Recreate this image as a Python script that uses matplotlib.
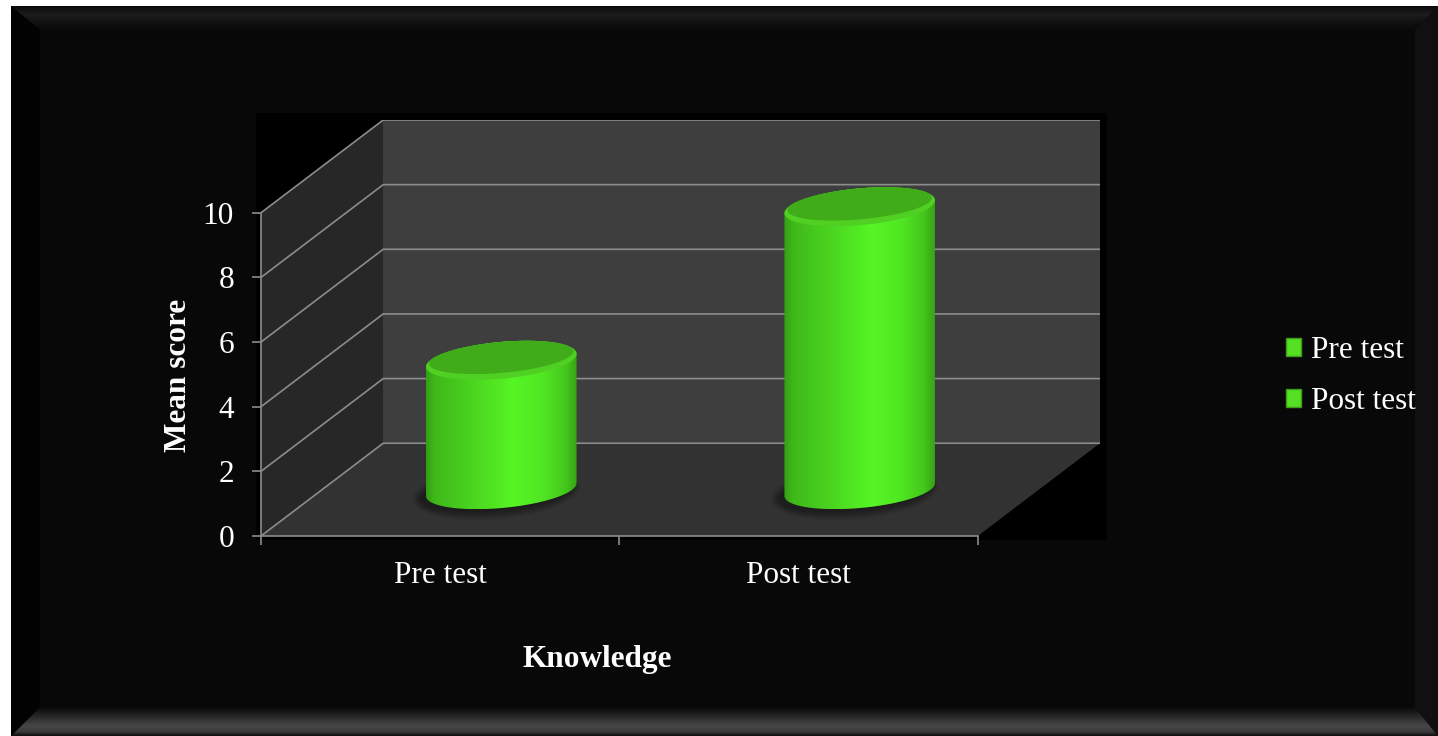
# 3D-style cylinder bar chart: mean knowledge score, pre vs post test

import matplotlib
matplotlib.use('Agg')
import matplotlib.pyplot as plt
import numpy as np
from matplotlib.patches import Polygon, Patch
from matplotlib.colors import LinearSegmentedColormap

# data
categories = ['Pre test', 'Post test']
mean_scores = [4.0, 8.75]
y_ticks = [0, 2, 4, 6, 8, 10]

W, H = 1438, 736
plt.rcParams['font.family'] = ['Liberation Serif', 'DejaVu Serif']
fig = plt.figure(figsize=(W / 100, H / 100), dpi=100)
fig.patch.set_facecolor('white')


def fx(x):
    return x / W


def fy(y):
    return 1 - y / H


def grad_fill(ax, pts, stops, vertical=True, zorder=1):
    # polygon filled with a linear gradient (imshow clipped to polygon)
    poly = Polygon(pts, closed=True, fc='none', ec='none', zorder=zorder)
    ax.add_patch(poly)
    xs = [p[0] for p in pts]
    ys = [p[1] for p in pts]
    cmap = LinearSegmentedColormap.from_list('g', stops)
    g = np.linspace(0, 1, 256)
    img = g[:, None] if vertical else g[None, :]
    im = ax.imshow(img, cmap=cmap, vmin=0, vmax=1, aspect='auto',
                   interpolation='bilinear', zorder=zorder,
                   extent=[min(xs), max(xs), max(ys), min(ys)] if vertical
                   else [min(xs), max(xs), min(ys), max(ys)])
    im.set_clip_path(poly)
    return im


# background frame with bevel, in pixel coordinates
bg = fig.add_axes([0, 0, 1, 1])
bg.set_xlim(0, W)
bg.set_ylim(H, 0)
bg.axis('off')
bg.add_patch(Polygon([(11, 6), (W, 6), (W, H), (11, H)], fc='#080808', ec='none'))
grad_fill(bg, [(11, 6), (W, 6), (1415, 30), (40, 30)],
          [(0, '#0a0a0a'), (0.35, '#1c1c1c'), (0.6, '#141414'), (1, '#080808')])
grad_fill(bg, [(40, 707), (1415, 707), (W, 736), (11, 736)],
          [(0, '#080808'), (0.35, '#2a2a2a'), (0.65, '#474747'), (0.85, '#3a3a3a'), (1, '#0c0c0c')])
bg.add_patch(Polygon([(11, 6), (40, 30), (40, 707), (11, 736)], fc='#020202', ec='none'))
bg.add_patch(Polygon([(W, 6), (1415, 30), (1415, 707), (W, 736)], fc='#101010', ec='none'))
bg.add_patch(Polygon([(256, 113), (1107, 113), (1107, 540), (256, 540)], fc='#000000', ec='none'))
bg.set_xlim(0, W)
bg.set_ylim(H, 0)

# main axes: front plane of the 3D box
L, R, B, T = 261, 1100, 536, 120
ax = fig.add_axes([fx(L), fy(B), (R - L) / W, (B - T) / H])
ax.set_facecolor('none')
n = len(categories)
dx = 0.341   # depth shift, category units
dy = 2.87    # depth shift, value units
ymax = y_ticks[-1]

# walls and floor
ax.add_patch(Polygon([(0, 0), (dx, dy), (dx, ymax + dy), (0, ymax)], fc='#272727', ec='none', zorder=0.5))
ax.add_patch(Polygon([(dx, dy), (n + dx, dy), (n + dx, ymax + dy), (dx, ymax + dy)], fc='#3e3e3e', ec='none', zorder=0.5))
ax.add_patch(Polygon([(0, 0), (n, 0), (n + dx, dy), (dx, dy)], fc='#323232', ec='none', zorder=0.5))
for v in y_ticks:
    ax.plot([0, dx, n + dx], [v, v + dy, v + dy], color='#8c8c8c', lw=1.2, zorder=1)

# cylinders
a = 0.21     # half width, category units
b = 0.57     # ellipse half height, value units
s = 0.2      # tilt of the ellipses
t_lo = np.linspace(np.pi, 2 * np.pi, 80)
t_hi = np.linspace(0, np.pi, 80)
t_all = np.linspace(0, 2 * np.pi, 160)


def ell(cx, cy, aa, bb, ss, t):
    return np.column_stack([cx + aa * np.cos(t), cy + bb * np.sin(t) + ss * np.cos(t)])


body_stops = [(0, '#34a014'), (0.06, '#3fb81a'), (0.3, '#4ad420'), (0.58, '#56f524'),
              (0.78, '#50e622'), (0.93, '#44c61c'), (1, '#36a416')]
for i, val in enumerate(mean_scores):
    cx = i + 0.5 + dx / 2
    yb = dy / 2
    yt = yb + val
    # soft shadow on the floor
    for k in range(6):
        sh = ell(cx - 0.014, yb - 0.09, a * (1.0 + 0.022 * k), b * (1.0 + 0.09 * k), s, t_all)
        ax.add_patch(Polygon(sh, fc='black', ec='none', alpha=0.08, zorder=2))
    body = np.vstack([ell(cx, yb, a, b, s, t_lo), ell(cx, yt, a, b, s, t_hi)])
    grad_fill(ax, body, body_stops, vertical=False, zorder=3)
    ax.add_patch(Polygon(ell(cx, yt, a, b, s, t_all), fc='#50d023', ec='none', zorder=4))
    ax.add_patch(Polygon(ell(cx, yt + 0.09, a * 0.96, b * 0.84, s * 0.96, t_all), fc='#40ac1a', ec='none', zorder=5))

ax.set_xlim(0, n + dx)
ax.set_ylim(0, ymax + dy)

# spines and ticks
for side in ['top', 'right']:
    ax.spines[side].set_visible(False)
for side in ['left', 'bottom']:
    ax.spines[side].set_color('#8c8c8c')
    ax.spines[side].set_linewidth(1.2)
ax.spines['left'].set_bounds(0, ymax)
ax.spines['bottom'].set_bounds(0, n)

ax.set_yticks(y_ticks)
ax.set_yticklabels([str(v) for v in y_ticks])
ax.tick_params(axis='y', color='#8c8c8c', length=6.5, width=1.2, pad=13,
               labelsize=22.5, labelcolor='white')
ax.set_xticks(range(n + 1))
ax.set_xticklabels([])
ax.set_xticks([i + 0.5 for i in range(n)], minor=True)
ax.set_xticklabels(categories, minor=True)
ax.tick_params(axis='x', which='major', color='#8c8c8c', length=6.5, width=1.2)
ax.tick_params(axis='x', which='minor', length=0, pad=18, labelsize=22.5, labelcolor='white')

# axis titles
fig.text(fx(178), fy(375), 'Mean score', rotation=90, ha='center', va='center',
         fontsize=22.5, fontweight='bold', color='white')
fig.text(fx(597), fy(660), 'Knowledge', ha='center', va='center',
         fontsize=22.5, fontweight='bold', color='white')

# legend
handles = [Patch(fc='#56e024', ec='#3c9c18', lw=1) for _ in categories]
fig.legend(handles, categories, loc='center left', bbox_to_anchor=(fx(1270), fy(376)),
           frameon=False, fontsize=22.5, labelcolor='white', handlelength=0.5,
           handleheight=0.5, handletextpad=0.3, labelspacing=0.7, borderpad=0)

fig.savefig('out.png', dpi=100, facecolor=fig.get_facecolor())
